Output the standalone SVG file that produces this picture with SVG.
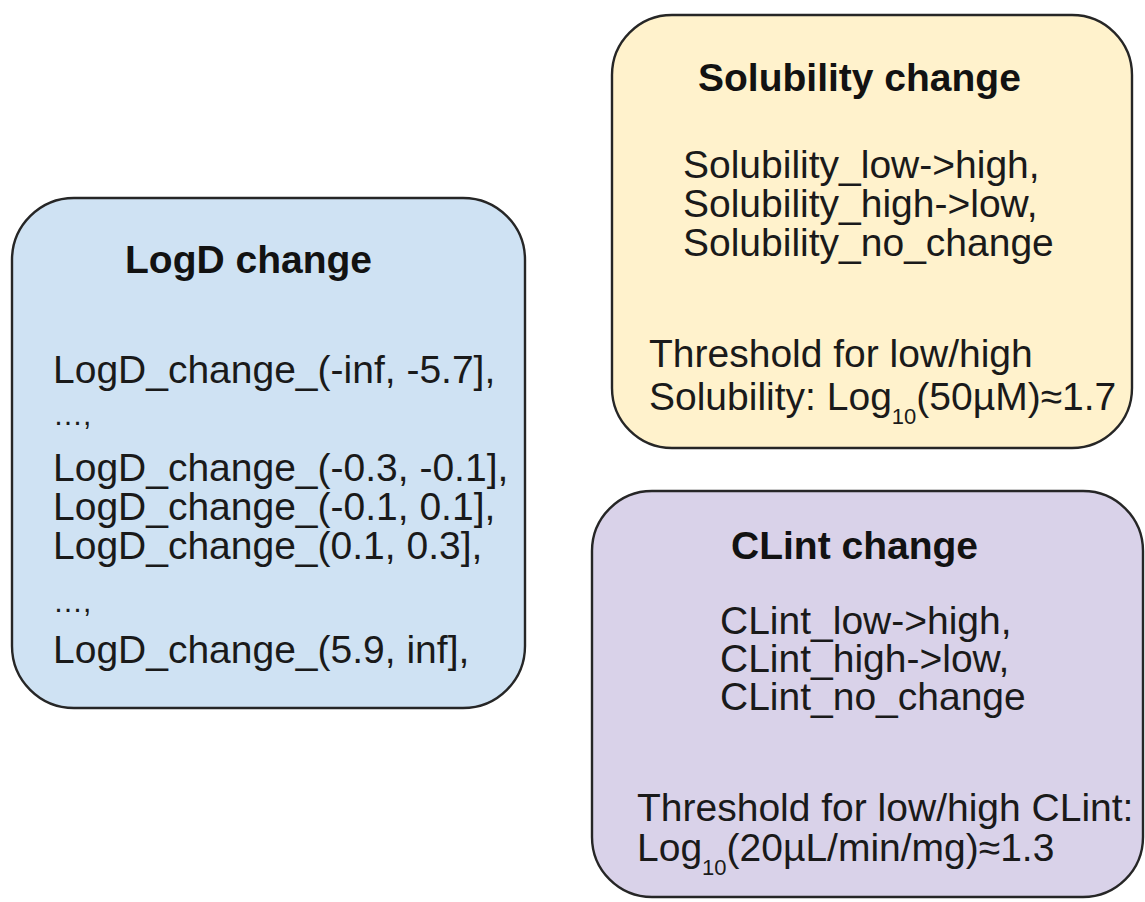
<svg xmlns="http://www.w3.org/2000/svg" width="1145" height="902" viewBox="0 0 1145 902">
<style>
.box{stroke:#262626;stroke-width:2.4}
.t{font-family:"Liberation Sans",Arial,sans-serif;font-size:39px;fill:#1a1a1a}
.b{font-weight:bold;fill:#121212}
.d{font-size:30px}
.s{font-size:22px}
</style>
<rect width="1145" height="902" fill="#ffffff"/>
<g id="connectors"></g>
<g id="logd">
<rect class="box" x="12" y="198" width="513" height="510" rx="62" ry="62" fill="#cfe2f3"/>
<text class="t b" x="125" y="273">LogD change</text>
<text class="t" x="53" y="383">LogD_change_(-inf, -5.7],</text>
<text class="t d" x="53" y="425">…,</text>
<text class="t" x="53" y="481">LogD_change_(-0.3, -0.1],</text>
<text class="t" x="53" y="520">LogD_change_(-0.1, 0.1],</text>
<text class="t" x="53" y="559">LogD_change_(0.1, 0.3],</text>
<text class="t d" x="53" y="612">…,</text>
<text class="t" x="53" y="663">LogD_change_(5.9, inf],</text>
</g>
<g id="solubility">
<rect class="box" x="612" y="15" width="520" height="433" rx="60" ry="60" fill="#fff2cc"/>
<text class="t b" x="698" y="91">Solubility change</text>
<text class="t" x="683" y="178">Solubility_low-&gt;high,</text>
<text class="t" x="683" y="217">Solubility_high-&gt;low,</text>
<text class="t" x="683" y="256">Solubility_no_change</text>
<text class="t" x="649" y="367">Threshold for low/high</text>
<text class="t" x="649" y="410">Solubility: Log<tspan class="s" dy="14">10</tspan><tspan dy="-14">(50µM)≈1.7</tspan></text>
</g>
<g id="clint">
<rect class="box" x="592" y="491" width="551" height="406" rx="60" ry="60" fill="#d9d2e9"/>
<text class="t b" x="731" y="559">CLint change</text>
<text class="t" x="720" y="634">CLint_low-&gt;high,</text>
<text class="t" x="720" y="672">CLint_high-&gt;low,</text>
<text class="t" x="720" y="710">CLint_no_change</text>
<text class="t" x="637" y="821">Threshold for low/high CLint:</text>
<text class="t" x="637" y="861">Log<tspan class="s" dy="14">10</tspan><tspan dy="-14">(20µL/min/mg)≈1.3</tspan></text>
</g>
</svg>
